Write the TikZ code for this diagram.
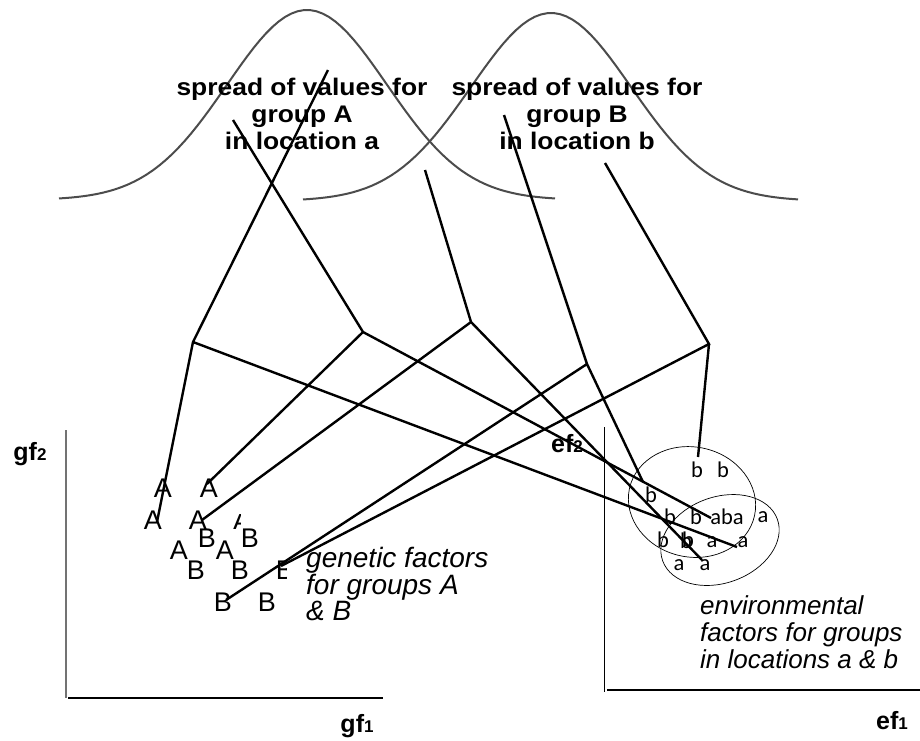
\documentclass[tikz,border=0pt]{standalone}
\usepackage{fontspec}
\setmainfont{Liberation Sans}
\newfontfamily\headfont[FakeStretch=1.1]{Liberation Sans}
\newfontfamily\envfont{Carlito}
\begin{document}
\begin{tikzpicture}[x=1pt,y=-1pt,
  link/.style={line width=2.4pt},
  bell/.style={draw=black!70,line width=2pt,line join=round},
  head/.style={font=\headfont\bfseries\fontsize{24}{27}\selectfont,align=center,inner sep=0pt},
  note/.style={font=\itshape\fontsize{26}{27}\selectfont,align=left,anchor=west,inner sep=0pt},
  gen/.style={font=\fontsize{27}{27}\selectfont,inner sep=0pt},
  env/.style={font=\envfont\fontsize{22.5}{22.5}\selectfont,inner sep=0pt},
  axlab/.style={font=\bfseries\fontsize{25}{25}\selectfont,inner sep=0pt}]
\newcommand{\sub}[1]{{\fontsize{17}{17}\selectfont #1}}
\useasboundingbox (0,0) rectangle (920,740);
% bell curves
\draw[bell] plot[domain=59:555,samples=80] (\x,{200-190*exp(-0.5*((\x-307)/80)^2)});
\draw[bell] plot[domain=303:798,samples=80] (\x,{201-188*exp(-0.5*((\x-551)/80)^2)});
\node[head] (spreadA) at (302,114) {spread of values for\\group A\\in location a};
\node[head] (spreadB) at (577,114) {spread of values for\\group B\\in location b};
% axes
\draw[black!55,line width=1.5pt] (66,430) -- (66,698);
\draw[line width=2pt] (68,698) -- (383,698);
\draw[line width=1pt] (604,427) -- (604,692);
\draw[line width=2pt] (607,690) -- (920,690);
\node[axlab] (gf2) at (30,454) {gf\sub{2}};
\node[axlab] (gf1) at (357,726) {gf\sub{1}};
\node[axlab] (ef2) at (567,444) {ef\sub{2}};
\node[axlab] (ef1) at (892,721) {ef\sub{1}};
% genetic factors
\node[gen] (A1) at (163,488) {A};
\node[gen] (A2) at (209,488) {A};
\node[gen] (A3) at (153,520) {A};
\node[gen] (A4) at (198,520) {A};
\node[gen] (A5) at (179,550) {A};
\node[gen] (A6) at (225,550) {A};
\node[gen] (B1) at (207,538) {B};
\node[gen] (B2) at (250,538) {B};
\node[gen] (B3) at (196,570) {B};
\node[gen] (B4) at (240,570) {B};
\node[gen] (B5) at (223,602) {B};
\node[gen] (B6) at (267,602) {B};
\begin{scope}
  \clip (232,514) rectangle (240,528);
  \node[gen] (A7) at (242,521) {A};
\end{scope}
\begin{scope}
  \clip (270,555) rectangle (286,585);
  \node[gen] (B7) at (285,570) {B};
\end{scope}
\node[note,font=\itshape\fontsize{28}{26}\selectfont] (gen) at (306,584) {genetic factors\\for groups A\\\& B};
% environmental factors
\draw[line width=0.7pt,rotate around={-12:(692,502)}] (692,502) ellipse [x radius=64,y radius=55];
\draw[line width=0.7pt,rotate around={20:(720,540)}] (720,540) ellipse [x radius=61,y radius=43];
\node[env] (b1) at (697,470) {b};
\node[env] (b2) at (723,470) {b};
\node[env] (b3) at (651,495) {b};
\node[env] (b4) at (670,517) {b};
\node[env] (b5) at (696,517) {b};
\node[env] (aba) at (727,517) {aba};
\node[env] (a1) at (763,517) {a};
\node[env] (b6) at (663,540) {b};
\node[env] (b7) at (686,541) {b};
\node[env] (b8) at (688,540) {b};
\node[env] (a2) at (712,542) {a};
\node[env] (a3) at (743,542) {a};
\node[env] (a4) at (679,565) {a};
\node[env] (a5) at (705,565) {a};
\node[note] (envtxt) at (700,632) {environmental\\factors for groups\\in locations a \& b};
% connections
\coordinate (t1) at (328,70);  \coordinate (j1) at (193,342);
\coordinate (t2) at (233,120); \coordinate (j2) at (363,332);
\coordinate (t3) at (425,170); \coordinate (j3) at (471,322);
\coordinate (t4) at (504,115); \coordinate (j4) at (587,364);
\coordinate (t5) at (605,163); \coordinate (j5) at (709,344);
\coordinate (g1) at (157,522); \coordinate (e1) at (737,547);
\coordinate (g2) at (207,484); \coordinate (e2) at (711,518);
\coordinate (g3) at (202,520); \coordinate (e3) at (702,560);
\coordinate (g4) at (226,600); \coordinate (e4) at (643,482);
\coordinate (g5) at (281,566); \coordinate (e5) at (698,457);
\foreach \i in {1,...,5}
  \draw[link] (t\i) -- (j\i) -- (g\i) (j\i) -- (e\i);
\end{tikzpicture}
\end{document}
